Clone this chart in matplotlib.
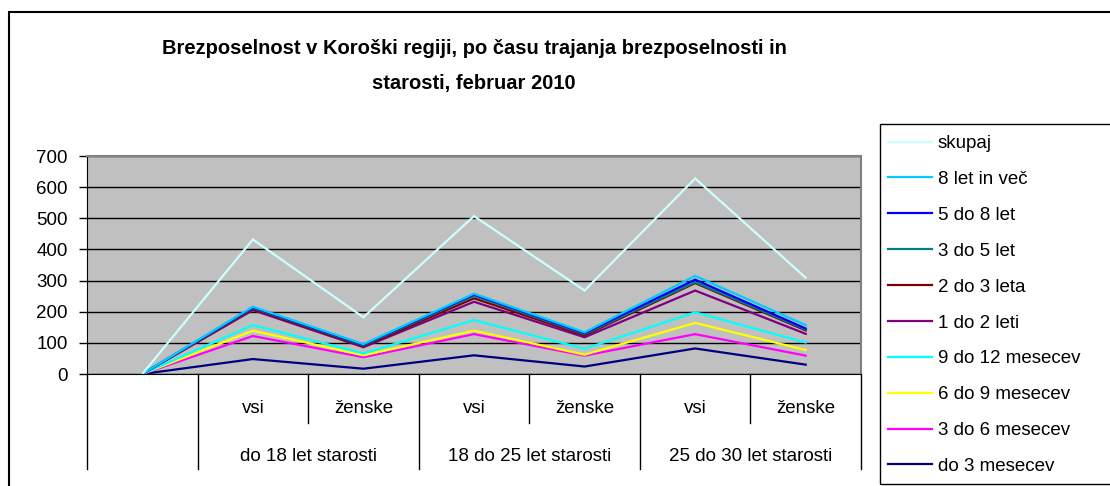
import matplotlib
matplotlib.use('Agg')
import matplotlib.pyplot as plt
from matplotlib.patches import Rectangle
from matplotlib.lines import Line2D
import numpy as np

plt.rcParams['font.family'] = ['Liberation Sans', 'DejaVu Sans']

# Data
sub_labels = ['', 'vsi', 'ženske', 'vsi', 'ženske', 'vsi', 'ženske']
group_labels = ['do 18 let starosti', '18 do 25 let starosti', '25 do 30 let starosti']

skupaj = [0, 432, 182, 507, 268, 628, 309]
let8_vec = [0, 216, 96, 258, 134, 315, 157]
let5_8 = [0, 214, 94, 255, 131, 303, 146]
let3_5 = [0, 212, 92, 251, 128, 295, 143]
let2_3 = [0, 209, 89, 243, 124, 292, 140]
let1_2 = [0, 205, 86, 232, 118, 268, 129]
mes9_12 = [0, 157, 66, 173, 81, 198, 101]
mes6_9 = [0, 139, 60, 139, 62, 164, 77]
mes3_6 = [0, 122, 54, 128, 59, 128, 59]
mes0_3 = [0, 48, 17, 60, 24, 82, 30]

series = [
    ('skupaj', skupaj, '#CCFFFF'),
    ('8 let in več', let8_vec, '#00CCFF'),
    ('5 do 8 let', let5_8, '#0000FF'),
    ('3 do 5 let', let3_5, '#008080'),
    ('2 do 3 leta', let2_3, '#800000'),
    ('1 do 2 leti', let1_2, '#800080'),
    ('9 do 12 mesecev', mes9_12, '#00FFFF'),
    ('6 do 9 mesecev', mes6_9, '#FFFF00'),
    ('3 do 6 mesecev', mes3_6, '#FF00FF'),
    ('do 3 mesecev', mes0_3, '#000080'),
]

W, H = 1110, 486
fs = 13.5
fig = plt.figure(figsize=(W / 100, H / 100), dpi=100)

# outer chart border
fig.patches.append(Rectangle((9 / W, -0.1), 1.2, 1 - 12 / H + 0.1, transform=fig.transFigure,
                             fill=False, edgecolor='black', linewidth=1.5))

ax = fig.add_axes([87 / W, 1 - 374 / H, (861 - 87) / W, (374 - 156) / H])
ax.set_facecolor('#C0C0C0')

x = np.arange(len(sub_labels))
# draw back-to-front so the lower series sit on top like in Excel
for name, vals, col in reversed(series):
    ax.plot(x, vals, color=col, linewidth=1.6, label=name, solid_joinstyle='miter')

ax.set_xlim(-0.5, len(sub_labels) - 0.5)
ax.set_ylim(0, 700)
ax.set_yticks(np.arange(0, 701, 100))
ax.yaxis.grid(True, color='black', linewidth=1)
ax.set_axisbelow(True)
ax.tick_params(axis='y', labelsize=fs, length=6, width=1, direction='out', pad=8)
ax.set_xticks([])
for s in ['top', 'right']:
    ax.spines[s].set_color('#808080')
    ax.spines[s].set_linewidth(1.5)
ax.spines['left'].set_color('black')
ax.spines['bottom'].set_color('black')

# category axis: two level labels
trans = ax.get_xaxis_transform()
long_y = -(469 - 374) / 218
short_y = -(423 - 374) / 218
for b in [-0.5, 0.5, 2.5, 4.5, 6.5]:
    ax.add_line(Line2D([b, b], [0, long_y], transform=trans, color='black', lw=1, clip_on=False))
for b in [1.5, 3.5, 5.5]:
    ax.add_line(Line2D([b, b], [0, short_y], transform=trans, color='black', lw=1, clip_on=False))
for i, lab in enumerate(sub_labels):
    ax.text(i, -(408 - 374) / 218, lab, transform=trans, ha='center', va='center', fontsize=fs)
for g, lab in enumerate(group_labels):
    ax.text(1.5 + 2 * g, -(456 - 374) / 218, lab, transform=trans, ha='center', va='center', fontsize=fs)

fig.text(474 / W, 1 - 48 / H, 'Brezposelnost v Koroški regiji, po času trajanja brezposelnosti in',
         ha='center', va='center', fontsize=14.5, fontweight='bold')
fig.text(474 / W, 1 - 83 / H, 'starosti, februar 2010',
         ha='center', va='center', fontsize=14.5, fontweight='bold')

# legend box
fig.patches.append(Rectangle((880 / W, 1 - 484 / H), 0.3, (484 - 124) / H, transform=fig.transFigure,
                             fill=False, edgecolor='black', linewidth=1))
handles = [Line2D([], [], color=c, lw=1.6) for _, _, c in series]
labels = [n for n, _, _ in series]
fig.legend(handles, labels, loc='upper left', bbox_to_anchor=(888 / W, 1 - 135 / H),
           frameon=False, fontsize=fs, handlelength=2.35, handletextpad=0.3,
           labelspacing=1.0, borderaxespad=0, borderpad=0)

fig.savefig('out.png', dpi=100)
